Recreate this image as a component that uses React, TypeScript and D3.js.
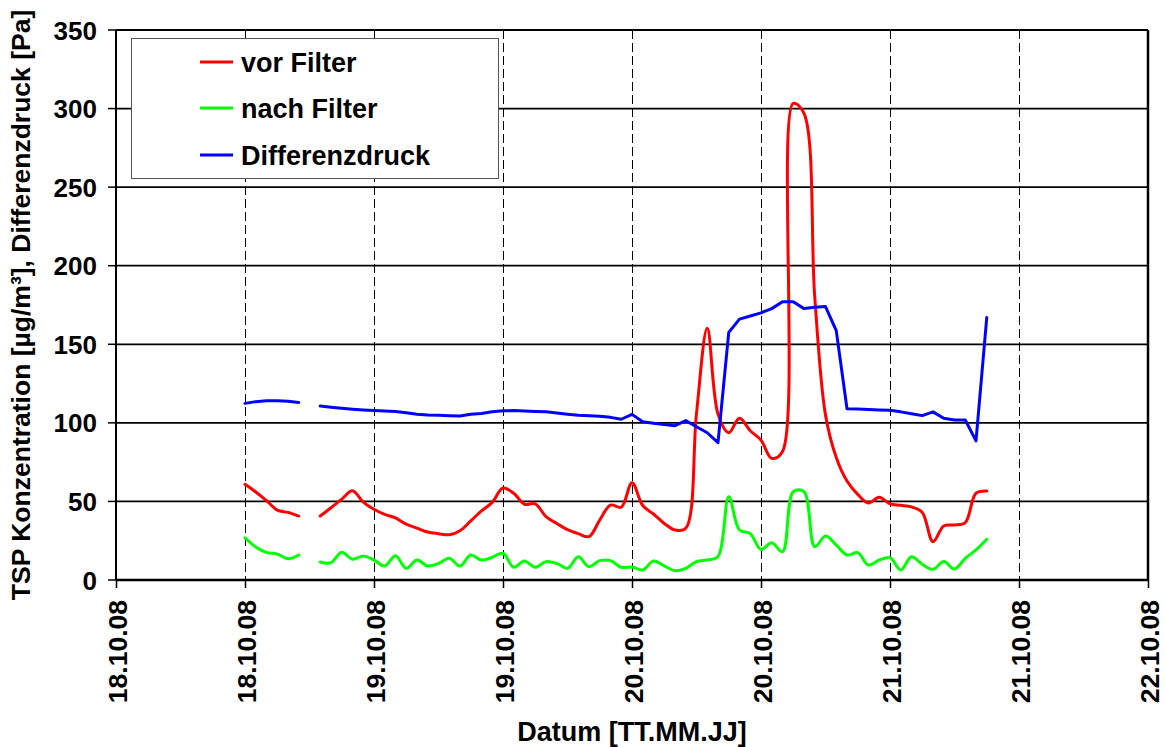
import React from "react";
import * as d3 from "d3";

// Hourly measurements starting 18.10.08 12:00 (null = no data)
const START_TIME = "2008-10-18T12:00";
const AXIS_START = "2008-10-18T00:00";
const AXIS_END = "2008-10-22T00:00";

const vorFilter: (number | null)[] = [
  60.9, 56, 50.5, 44.5, 43, 40.7, null, 40.7, 46, 51.5, 56.8, 49.6, 45, 41.7, 39.5, 35.5,
  33, 30.5, 29.5, 28.8, 31.4, 37.6, 44, 49.4, 58.5, 55.2, 48.2, 48.4, 40.3, 36, 32, 29.5,
  27.6, 38.2, 47.7, 46.3, 61.9, 47.4, 42, 36, 31.8, 32.9, 106, 160.2, 105.6, 93.7, 102.9, 95,
  89, 77.4, 81.7, 303.3, 297, 180, 105, 78, 63, 54.5, 49, 52.6, 48.4, 47.5, 46.5, 43,
  24.4, 34.4, 35, 36.5, 55.2, 56.6,
];

const nachFilter: (number | null)[] = [
  26.9, 21, 17.5, 16.5, 13.5, 15.9, null, 11.5, 11, 17.6, 13.2, 15.3, 12.7, 8.9, 15.5, 7.4,
  12.7, 8.9, 10.5, 13.8, 8.9, 15.9, 12.7, 14.5, 17, 8.1, 12.1, 8.1, 11.7, 10.6, 7.4, 14.8,
  8.5, 12.3, 12.3, 8.1, 8.3, 6.4, 12.1, 9, 5.9, 7.4, 11.7, 12.8, 15, 53, 31.8, 29.5,
  19.5, 23.7, 18, 56.2, 56.2, 21.2, 28, 22.3, 15.9, 17.4, 9.5, 12.7, 14.2, 6.4, 14.8, 10,
  6.8, 11.7, 7, 13.8, 19.1, 25.9,
];

const differenzdruck: (number | null)[] = [
  112.4, 113.5, 114, 114, 113.8, 113, null, 110.7, 110, 109.3, 108.7, 108.2, 107.8, 107.5, 107.3, 106.5,
  105.5, 105, 104.8, 104.6, 104.4, 105.5, 106, 107, 107.7, 107.8, 107.5, 107.2, 107, 106.3, 105.5, 104.8,
  104.6, 104.2, 103.5, 102.3, 105.4, 100.7, 99.8, 99, 98.2, 101.4, 97.5, 93.7, 87.4, 157.6, 166, 168,
  170, 172.7, 177.1, 177.1, 172.7, 173.5, 174, 158.7, 109, 108.8, 108.5, 108.2, 108, 107, 105.8, 104.6,
  107, 102.9, 101.8, 101.8, 88.5, 167,
];

const yTicks = [0, 50, 100, 150, 200, 250, 300, 350];
const seriesNames = ["vor Filter", "nach Filter", "Differenzdruck"];
const seriesColors = ["#ff0000", "#00ff00", "#0000ff"];
const yTitle = "TSP Konzentration [µg/m³], Differenzdruck [Pa]";
const xTitle = "Datum [TT.MM.JJ]";

const FONT = "'Liberation Sans', Arial, sans-serif";

export default function App() {
  const W = 1165;
  const H = 747;
  const m = { left: 116, right: 1148, top: 30, bottom: 580 };
  const parse = d3.timeParse("%Y-%m-%dT%H:%M");
  const start = parse(START_TIME) as Date;
  const times = vorFilter.map((_, i) => d3.timeHour.offset(start, i));

  const x = d3
    .scaleTime()
    .domain([parse(AXIS_START) as Date, parse(AXIS_END) as Date])
    .range([m.left, m.right]);
  const y = d3.scaleLinear().domain([0, 350]).range([m.bottom, m.top]);
  const xTicks = x.ticks(d3.timeHour.every(12) as any);
  const fmt = d3.timeFormat("%d.%m.%y");
  const crisp = (v: number) => Math.round(v) + 0.5;

  const mk = (vals: (number | null)[], curve: any) =>
    d3
      .line<number>()
      .defined((i) => vals[i] !== null)
      .x((i) => x(times[i]))
      .y((i) => y(vals[i] as number))
      .curve(curve)(vals.map((_, i) => i)) || "";

  const smooth = d3.curveCatmullRom.alpha(0.5);
  const paths = [
    mk(vorFilter, smooth),
    mk(nachFilter, smooth),
    mk(differenzdruck, d3.curveLinear),
  ];

  const legend = { x: 131, y: 38, w: 367, h: 140 };
  const legendRows = [62, 108, 155];

  return (
    <svg
      width={W}
      height={H}
      style={{ position: "absolute", left: 0, top: 0, background: "#fff" }}
      fontFamily={FONT}
      fontWeight="bold"
    >
      <rect x={0} y={0} width={W} height={H} fill="#fff" />
      {/* vertical dashed grid */}
      {xTicks.slice(1, -1).map((t, i) => (
        <line
          key={"vg" + i}
          x1={crisp(x(t))}
          x2={crisp(x(t))}
          y1={m.top}
          y2={m.bottom}
          stroke="#000"
          strokeWidth={1}
          strokeDasharray="9,4"
        />
      ))}
      {/* horizontal grid */}
      {yTicks.map((v) => (
        <line
          key={"hg" + v}
          x1={m.left}
          x2={m.right}
          y1={y(v)}
          y2={y(v)}
          stroke="#000"
          strokeWidth={1.8}
        />
      ))}
      {/* plot border */}
      <line x1={m.left} x2={m.left} y1={m.top} y2={m.bottom} stroke="#000" strokeWidth={2} />
      <line x1={m.right} x2={m.right} y1={m.top} y2={m.bottom} stroke="#000" strokeWidth={2.5} />
      <line x1={m.left} x2={m.right} y1={m.bottom} y2={m.bottom} stroke="#000" strokeWidth={2.5} />

      {/* legend box (drawn over grid) */}
      <rect
        x={legend.x + 0.5}
        y={legend.y + 0.5}
        width={legend.w}
        height={legend.h}
        fill="#fff"
        stroke="#555"
        strokeWidth={1}
      />

      {/* data */}
      {paths.map((p, i) => (
        <path
          key={"s" + i}
          d={p}
          fill="none"
          stroke={seriesColors[i]}
          strokeWidth={3}
          strokeLinejoin="round"
          strokeLinecap="round"
        />
      ))}

      {/* y axis ticks + labels */}
      {yTicks.map((v) => (
        <g key={"yt" + v}>
          <line x1={m.left - 8} x2={m.left} y1={y(v)} y2={y(v)} stroke="#000" strokeWidth={1.5} />
          <text x={97} y={y(v) + 9.5} textAnchor="end" fontSize={26}>
            {v}
          </text>
        </g>
      ))}

      {/* x axis ticks + labels */}
      {xTicks.map((t, i) => (
        <g key={"xt" + i}>
          <line x1={crisp(x(t))} x2={crisp(x(t))} y1={m.bottom} y2={m.bottom + 8} stroke="#000" strokeWidth={1.5} />
          <text
            transform={`translate(${x(t) + 11},600) rotate(-90)`}
            textAnchor="end"
            fontSize={26.5}
          >
            {fmt(t)}
          </text>
        </g>
      ))}

      {/* axis titles */}
      <text transform={`translate(30,${(m.top + m.bottom) / 2}) rotate(-90)`} textAnchor="middle" fontSize={26.5}>
        {yTitle}
      </text>
      <text x={(m.left + m.right) / 2} y={741} textAnchor="middle" fontSize={27}>
        {xTitle}
      </text>

      {/* legend entries */}
      {seriesNames.map((n, i) => (
        <g key={"lg" + i}>
          <line x1={200} x2={233} y1={legendRows[i]} y2={legendRows[i]} stroke={seriesColors[i]} strokeWidth={3} />
          <text x={241} y={legendRows[i] + 10} fontSize={27}>
            {n}
          </text>
        </g>
      ))}
    </svg>
  );
}
